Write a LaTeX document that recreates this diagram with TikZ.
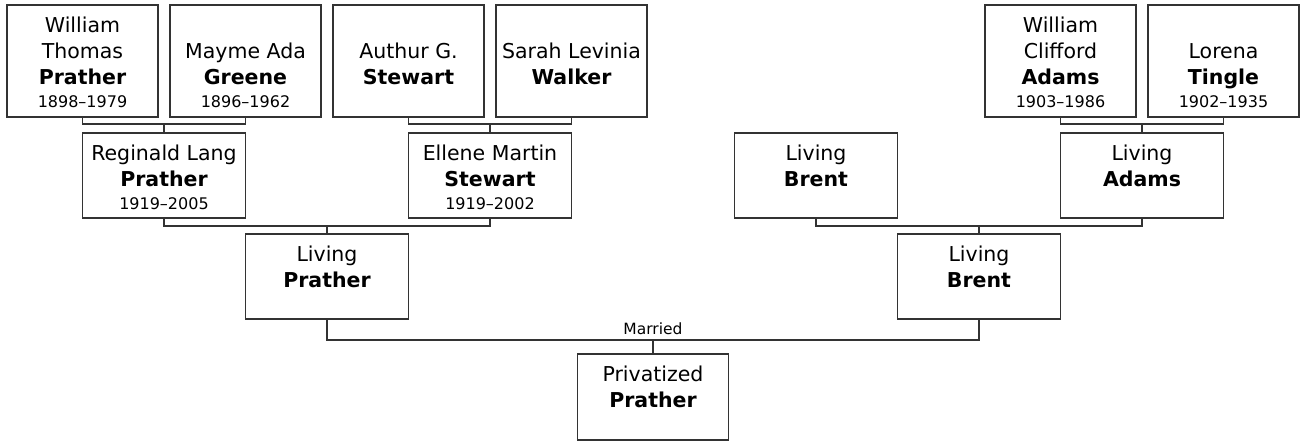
\documentclass[tikz,border=0pt]{standalone}
\usepackage{fontspec}
\setmainfont{DejaVu Sans}
\usetikzlibrary{positioning,calc}
\newcommand{\yrs}[1]{\\[-3.3pt]{\fontsize{16}{19}\selectfont #1}}

\begin{document}
\begin{tikzpicture}[
x=1pt, y=1pt,
node distance=12pt and 12pt,
person/.style={draw=black!80, line width=1.4pt, fill=white, align=center, inner sep=0pt, outer sep=0pt, font=\fontsize{20.5}{26}\selectfont},
elder/.style={person, minimum width=151pt, minimum height=112pt, text height=102.2pt, text depth=9.8pt},
eldernodate/.style={elder, text height=79.5pt, text depth=32.5pt},
kid/.style={person, minimum width=163pt, minimum height=85pt, text height=53.5pt, text depth=31.5pt},
kiddated/.style={kid, text height=76.2pt, text depth=8.8pt},
root/.style={person, minimum width=151pt, minimum height=86pt, text height=53.5pt, text depth=32.5pt},
link/.style={draw=black!80, line width=1.4pt}
]
\useasboundingbox (0,0) rectangle (1302,-441);

\node[elder] (wtp) at (82.5,-61) {William\\Thomas\\\textbf{Prather}\yrs{1898--1979}};
\node[elder, right=of wtp] (mag) {Mayme Ada\\\textbf{Greene}\yrs{1896--1962}};
\node[eldernodate, right=of mag] (ags) {Authur G.\\\textbf{Stewart}};
\node[eldernodate, right=of ags] (slw) {Sarah Levinia\\\textbf{Walker}};
\node[elder] (wca) at (1060.5,-61) {William\\Clifford\\\textbf{Adams}\yrs{1903--1986}};
\node[elder, right=of wca] (ltg) {Lorena\\\textbf{Tingle}\yrs{1902--1935}};

\node[kiddated, anchor=north] (rlp) at ($(wtp.south)!.5!(mag.south)+(0,-16)$) {Reginald Lang\\\textbf{Prather}\yrs{1919--2005}};
\node[kiddated, anchor=north] (ems) at ($(ags.south)!.5!(slw.south)+(0,-16)$) {Ellene Martin\\\textbf{Stewart}\yrs{1919--2002}};
\node[kid, anchor=north] (lad) at ($(wca.south)!.5!(ltg.south)+(0,-16)$) {Living\\\textbf{Adams}};
\node[kid, left=163pt of lad] (lbg) {Living\\\textbf{Brent}};

\node[kid, anchor=north] (lpr) at ($(rlp.south)!.5!(ems.south)+(0,-16)$) {Living\\\textbf{Prather}};
\node[kid, anchor=north] (lbr) at ($(lbg.south)!.5!(lad.south)+(0,-16)$) {Living\\\textbf{Brent}};

\node[root, anchor=north] (ppr) at ($(lpr.south)!.5!(lbr.south)+(0,-35)$) {Privatized\\\textbf{Prather}};

\draw[link] (wtp.south) -- ++(0,-7) -| (mag.south);
\draw[link] (rlp.north) -- ++(0,9);
\draw[link] (ags.south) -- ++(0,-7) -| (slw.south);
\draw[link] (ems.north) -- ++(0,9);
\draw[link] (wca.south) -- ++(0,-7) -| (ltg.south);
\draw[link] (lad.north) -- ++(0,9);
\draw[link] (rlp.south) -- ++(0,-8) -| (ems.south);
\draw[link] (lpr.north) -- ++(0,8);
\draw[link] (lbg.south) -- ++(0,-8) -| (lad.south);
\draw[link] (lbr.north) -- ++(0,8);
\draw[link] (lpr.south) -- ++(0,-21) -| (lbr.south);
\draw[link] (ppr.north) -- ++(0,14) node[above=4.5pt, inner sep=0pt, font=\fontsize{15.5}{18}\selectfont] (wed) {Married};
\end{tikzpicture}
\end{document}
